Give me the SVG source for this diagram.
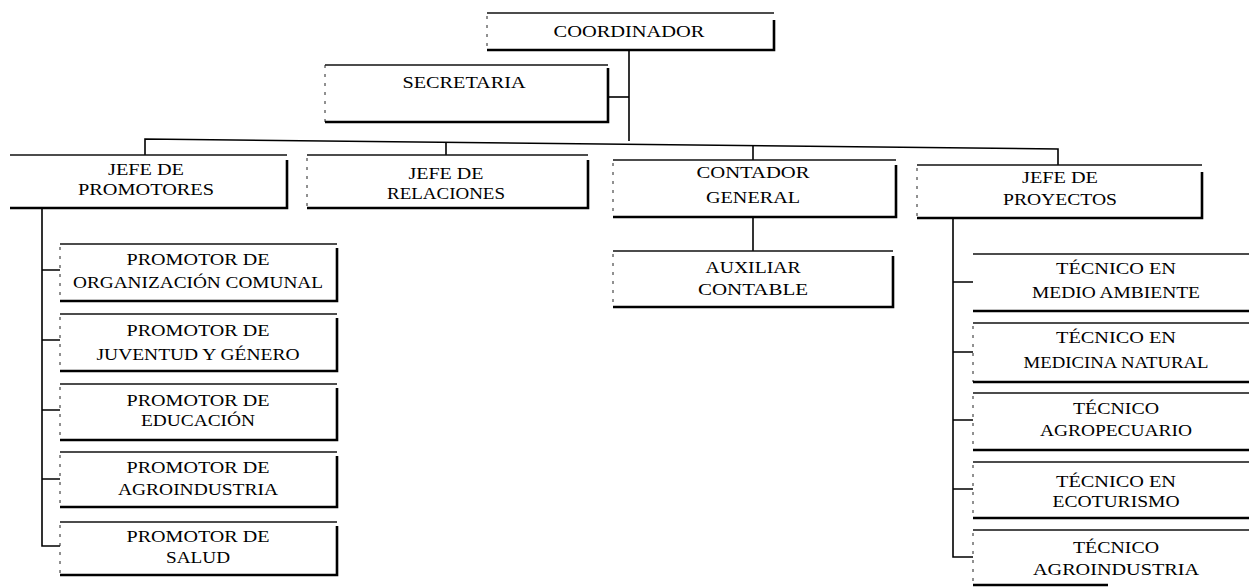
<svg xmlns="http://www.w3.org/2000/svg" width="1249" height="587" viewBox="0 0 1249 587">
  <style>
    .bg { fill: #ffffff; }
    .box { fill: #ffffff; stroke: none; }
    .top { fill: none; stroke: #111; stroke-width: 1.4; }
    .edge { fill: none; stroke: #000; stroke-width: 2.6; }
    .left { fill: none; stroke: #222; stroke-width: 1; stroke-dasharray: 3 6; }
    .link { fill: none; stroke: #000; stroke-width: 1.6; }
    text { font-family: "Liberation Serif", "DejaVu Serif", serif; font-size: 17px; fill: #000; text-anchor: middle; lengthAdjust: spacingAndGlyphs; }
  </style>
  <rect class="bg" x="0" y="0" width="1249" height="587"/>

  <!-- connectors -->
  <g id="connectors">
    <path class="link" d="M629 50 V141"/>
    <path class="link" d="M608 97 H629"/>
    <path class="link" d="M145 155 V139 L1058 149 V165"/>
    <path class="link" d="M446 142 V155"/>
    <path class="link" d="M753 146 V160"/>
    <path class="link" d="M753 217 V251"/>
    <path class="link" d="M42 208 V546 H60 M42 270 H60 M42 340 H60 M42 410 H60 M42 479 H60"/>
    <path class="link" d="M953 218 V557 H973 M953 282 H973 M953 352 H973 M953 420 H973 M953 489 H973"/>
  </g>

  <g id="coordinador">
    <rect class="box" x="487" y="13" width="287" height="37"/>
    <path class="top" d="M487 13 H774"/>
    <path class="left" d="M487 16 V50"/>
    <path class="edge" d="M487 50 H774 V20"/>
    <text x="629" y="37" textLength="151" lengthAdjust="spacingAndGlyphs">COORDINADOR</text>
  </g>

  <g id="secretaria">
    <rect class="box" x="325" y="65" width="283" height="57"/>
    <path class="top" d="M325 65 H608"/>
    <path class="left" d="M325 65 V122"/>
    <path class="edge" d="M325 122 H608 V68"/>
    <text x="464" y="88" textLength="123" lengthAdjust="spacingAndGlyphs">SECRETARIA</text>
  </g>

  <g id="jefe-promotores">
    <rect class="box" x="10" y="155" width="277" height="53"/>
    <path class="top" d="M10 155 H287"/>
    <path class="edge" d="M10 208 H287 V160"/>
    <text x="146" y="175" textLength="76" lengthAdjust="spacingAndGlyphs">JEFE DE</text>
    <text x="146" y="195" textLength="136" lengthAdjust="spacingAndGlyphs">PROMOTORES</text>
  </g>

  <g id="jefe-relaciones">
    <rect class="box" x="307" y="155" width="281" height="53"/>
    <path class="top" d="M307 155 H588"/>
    <path class="left" d="M307 158 V208"/>
    <path class="edge" d="M307 208 H588 V160"/>
    <text x="446" y="179" textLength="75" lengthAdjust="spacingAndGlyphs">JEFE DE</text>
    <text x="446" y="199" textLength="118" lengthAdjust="spacingAndGlyphs">RELACIONES</text>
  </g>

  <g id="contador-general">
    <rect class="box" x="613" y="160" width="283" height="57"/>
    <path class="top" d="M613 160 H896"/>
    <path class="left" d="M613 163 V217"/>
    <path class="edge" d="M613 217 H896 V165"/>
    <text x="753" y="178" textLength="113" lengthAdjust="spacingAndGlyphs">CONTADOR</text>
    <text x="753" y="203" textLength="94" lengthAdjust="spacingAndGlyphs">GENERAL</text>
  </g>

  <g id="auxiliar-contable">
    <rect class="box" x="613" y="251" width="280" height="56"/>
    <path class="top" d="M613 251 H893"/>
    <path class="left" d="M613 254 V307"/>
    <path class="edge" d="M613 307 H893 V256"/>
    <text x="753" y="273" textLength="95" lengthAdjust="spacingAndGlyphs">AUXILIAR</text>
    <text x="753" y="295" textLength="110" lengthAdjust="spacingAndGlyphs">CONTABLE</text>
  </g>

  <g id="jefe-proyectos">
    <rect class="box" x="917" y="165" width="285" height="53"/>
    <path class="top" d="M917 165 H1202"/>
    <path class="left" d="M917 168 V218"/>
    <path class="edge" d="M917 218 H1202 V172"/>
    <text x="1060" y="183" textLength="76" lengthAdjust="spacingAndGlyphs">JEFE DE</text>
    <text x="1060" y="205" textLength="114" lengthAdjust="spacingAndGlyphs">PROYECTOS</text>
  </g>

  <!-- promotores -->
  <g id="promotor-organizacion">
    <rect class="box" x="60" y="244" width="277" height="57"/>
    <path class="top" d="M60 244 H337"/>
    <path class="left" d="M60 247 V301"/>
    <path class="edge" d="M60 301 H337 V248"/>
    <text x="198" y="265" textLength="143" lengthAdjust="spacingAndGlyphs">PROMOTOR DE</text>
    <text x="198" y="288" textLength="250" lengthAdjust="spacingAndGlyphs">ORGANIZACIÓN COMUNAL</text>
  </g>
  <g id="promotor-juventud">
    <rect class="box" x="60" y="314" width="277" height="57"/>
    <path class="top" d="M60 314 H337"/>
    <path class="left" d="M60 317 V371"/>
    <path class="edge" d="M60 371 H337 V318"/>
    <text x="198" y="336" textLength="143" lengthAdjust="spacingAndGlyphs">PROMOTOR DE</text>
    <text x="198" y="360" textLength="203" lengthAdjust="spacingAndGlyphs">JUVENTUD Y GÉNERO</text>
  </g>
  <g id="promotor-educacion">
    <rect class="box" x="60" y="384" width="277" height="56"/>
    <path class="top" d="M60 384 H337"/>
    <path class="left" d="M60 387 V440"/>
    <path class="edge" d="M60 440 H337 V388"/>
    <text x="198" y="406" textLength="143" lengthAdjust="spacingAndGlyphs">PROMOTOR DE</text>
    <text x="198" y="426" textLength="114" lengthAdjust="spacingAndGlyphs">EDUCACIÓN</text>
  </g>
  <g id="promotor-agroindustria">
    <rect class="box" x="60" y="452" width="277" height="55"/>
    <path class="top" d="M60 452 H337"/>
    <path class="left" d="M60 455 V507"/>
    <path class="edge" d="M60 507 H337 V456"/>
    <text x="198" y="473" textLength="143" lengthAdjust="spacingAndGlyphs">PROMOTOR DE</text>
    <text x="198" y="495" textLength="160" lengthAdjust="spacingAndGlyphs">AGROINDUSTRIA</text>
  </g>
  <g id="promotor-salud">
    <rect class="box" x="60" y="522" width="277" height="53"/>
    <path class="top" d="M60 522 H337"/>
    <path class="left" d="M60 525 V575"/>
    <path class="edge" d="M60 575 H337 V526"/>
    <text x="198" y="542" textLength="143" lengthAdjust="spacingAndGlyphs">PROMOTOR DE</text>
    <text x="198" y="563" textLength="64" lengthAdjust="spacingAndGlyphs">SALUD</text>
  </g>

  <!-- tecnicos -->
  <g id="tecnico-medio-ambiente">
    <rect class="box" x="973" y="254" width="280" height="57"/>
    <path class="top" d="M973 254 H1252"/>
    <path class="edge" d="M973 311 H1252"/>
    <text x="1116" y="274" textLength="120" lengthAdjust="spacingAndGlyphs">TÉCNICO EN</text>
    <text x="1116" y="298" textLength="168" lengthAdjust="spacingAndGlyphs">MEDIO AMBIENTE</text>
  </g>
  <g id="tecnico-medicina-natural">
    <rect class="box" x="973" y="323" width="280" height="59"/>
    <path class="top" d="M973 323 H1252"/>
    <path class="left" d="M973 326 V382"/>
    <path class="edge" d="M973 382 H1252"/>
    <text x="1116" y="343" textLength="120" lengthAdjust="spacingAndGlyphs">TÉCNICO EN</text>
    <text x="1116" y="368" textLength="185" lengthAdjust="spacingAndGlyphs">MEDICINA NATURAL</text>
  </g>
  <g id="tecnico-agropecuario">
    <rect class="box" x="973" y="393" width="280" height="57"/>
    <path class="top" d="M973 393 H1252"/>
    <path class="left" d="M973 396 V450"/>
    <path class="edge" d="M973 450 H1252"/>
    <text x="1116" y="414" textLength="86" lengthAdjust="spacingAndGlyphs">TÉCNICO</text>
    <text x="1116" y="436" textLength="152" lengthAdjust="spacingAndGlyphs">AGROPECUARIO</text>
  </g>
  <g id="tecnico-ecoturismo">
    <rect class="box" x="973" y="462" width="280" height="56"/>
    <path class="top" d="M973 462 H1252"/>
    <path class="left" d="M973 465 V518"/>
    <path class="edge" d="M973 518 H1252"/>
    <text x="1116" y="487" textLength="120" lengthAdjust="spacingAndGlyphs">TÉCNICO EN</text>
    <text x="1116" y="507" textLength="127" lengthAdjust="spacingAndGlyphs">ECOTURISMO</text>
  </g>
  <g id="tecnico-agroindustria">
    <rect class="box" x="973" y="530" width="280" height="55"/>
    <path class="top" d="M973 530 H1252"/>
    <path class="left" d="M973 533 V585"/>
    <path class="edge" d="M973 585 H1108"/>
    <text x="1116" y="553" textLength="86" lengthAdjust="spacingAndGlyphs">TÉCNICO</text>
    <text x="1116" y="575" textLength="166" lengthAdjust="spacingAndGlyphs">AGROINDUSTRIA</text>
  </g>
</svg>
